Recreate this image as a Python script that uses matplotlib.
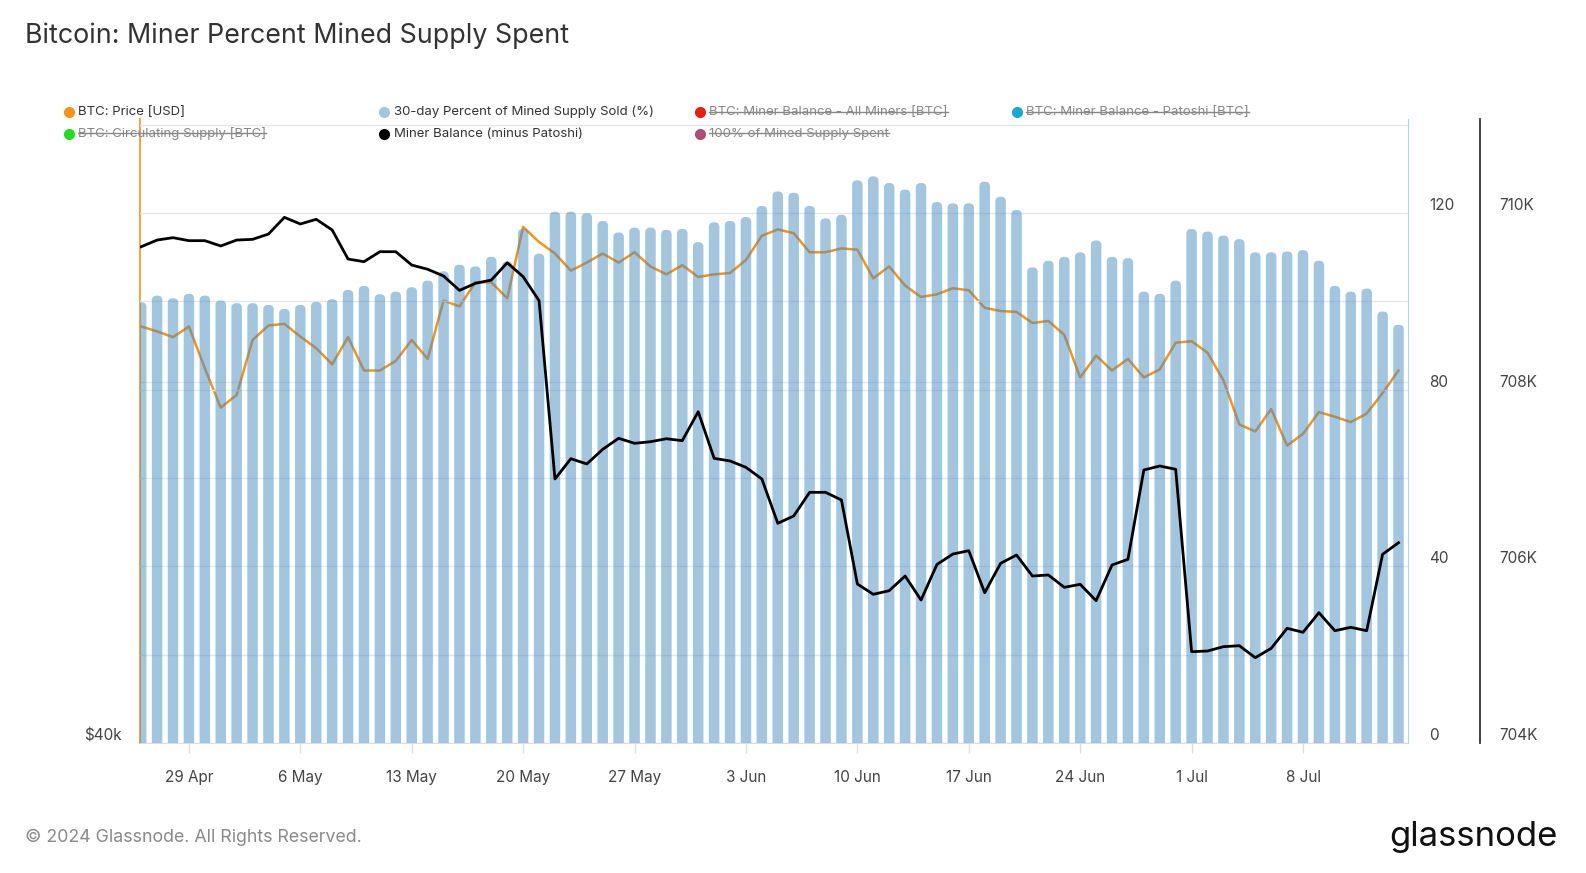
import numpy as np
import pandas as pd
import matplotlib
matplotlib.use('Agg')
import matplotlib.pyplot as plt
import matplotlib.dates as mdates
from matplotlib.ticker import FixedLocator, FuncFormatter, NullLocator
from matplotlib.lines import Line2D
from matplotlib.patches import FancyBboxPatch

plt.rcParams['font.family'] = ['Inter', 'DejaVu Sans']

dates = pd.date_range('2024-04-26', periods=80, freq='D')

# 30-day percent of mined supply sold (%)
pct_sold = [99.8, 101.3, 100.7, 101.7, 101.3, 100.2, 99.6, 99.6, 99.2, 98.3,
            99.2, 99.9, 100.5, 102.6, 103.5, 101.6, 102.2, 103.2, 104.7, 106.8,
            108.3, 107.9, 110.1, 109.0, 116.4, 110.8, 120.3, 120.3, 120.0, 118.2,
            115.6, 116.7, 116.7, 116.2, 116.4, 113.4, 117.9, 118.2, 119.1, 121.6,
            124.9, 124.6, 121.6, 118.8, 119.6, 127.4, 128.3, 126.8, 125.3, 126.8,
            122.5, 122.2, 122.2, 127.1, 123.7, 120.7, 107.7, 109.2, 110.1, 111.1,
            113.8, 110.1, 109.8, 102.2, 101.7, 104.7, 116.4, 115.8, 114.9, 114.1,
            111.1, 111.1, 111.3, 111.6, 109.2, 103.5, 102.2, 102.9, 97.7, 94.7]

# BTC price (USD)
price = [63850, 63500, 63090, 63850, 60930, 58290, 59130, 62890, 63920, 64040,
         63130, 62310, 61200, 63090, 60770, 60770, 61430, 62890, 61570, 65740,
         65300, 67100, 67100, 65900, 71400, 70200, 69300, 67980, 68600, 69300,
         68600, 69400, 68300, 67700, 68400, 67500, 67700, 67800, 68800, 70700,
         71200, 70900, 69400, 69400, 69700, 69600, 67400, 68300, 66850, 66000,
         66200, 66650, 66500, 65200, 64970, 64900, 64100, 64250, 63250, 60300,
         61800, 60770, 61570, 60300, 60850, 62700, 62800, 62000, 60100, 57200,
         56750, 58200, 55860, 56600, 58000, 57700, 57350, 57900, 59250, 60770]

# Miner balance (minus Patoshi), BTC
miner_balance = [709620, 709696, 709723, 709689, 709689, 709629, 709696, 709704, 709764, 709953,
                 709878, 709931, 709810, 709481, 709451, 709564, 709564, 709413, 709365, 709289,
                 709126, 709206, 709243, 709439, 709281, 709009, 706990, 707220, 707160, 707326,
                 707451, 707394, 707412, 707446, 707424, 707752, 707224, 707194, 707122, 706990,
                 706488, 706571, 706839, 706839, 706752, 705801, 705684, 705725, 705891, 705619,
                 706022, 706140, 706178, 705702, 706035, 706129, 705891, 705903, 705763, 705797,
                 705612, 706016, 706080, 707092, 707137, 707100, 705034, 705042, 705091, 705102,
                 704966, 705072, 705299, 705254, 705476, 705272, 705310, 705272, 706137, 706268]

legend_items = [
    ("BTC: Price [USD]", "#f7931a", False),
    ("30-day Percent of Mined Supply Sold (%)", "#a3c6e0", False),
    ("BTC: Miner Balance - All Miners [BTC]", "#e8200e", True),
    ("BTC: Miner Balance - Patoshi [BTC]", "#17a9d1", True),
    ("BTC: Circulating Supply [BTC]", "#1fe01f", True),
    ("Miner Balance (minus Patoshi)", "#000000", False),
    ("100% of Mined Supply Spent", "#b24a78", True),
]

fig = plt.figure(figsize=(15.86, 8.73), dpi=100)
ax_p = fig.add_axes([0.088, 0.1489, 0.7998, 0.7148])
ax_b = ax_p.twinx()
ax_m = ax_p.twinx()
ax_p.set_zorder(1)
ax_b.set_zorder(2)
ax_m.set_zorder(3)

grid_c = '#e6e6e6'
tick_c = '#444444'

# price (log, sits under the bars)
ax_p.plot(dates, price, color='#f7931a', lw=1.8)
ax_p.set_yscale('log')
ax_p.set_ylim(40000, 80600)
ax_p.yaxis.set_major_locator(FixedLocator([40000]))
ax_p.yaxis.set_minor_locator(NullLocator())
ax_p.yaxis.set_major_formatter(FuncFormatter(lambda v, p: '$40k'))
ax_p.axhline(60000, color=grid_c, lw=1, zorder=0)
ax_p.tick_params(axis='y', length=0, pad=13, labelsize=11, labelcolor=tick_c)
for s in ['top', 'right']:
    ax_p.spines[s].set_visible(False)
ax_p.spines['left'].set_color('#f7931a')
ax_p.spines['left'].set_linewidth(1.2)
ax_p.spines['bottom'].set_color('#dddddd')

ax_p.set_xlim(dates[0] - pd.Timedelta(hours=2.4), dates[-1] + pd.Timedelta(hours=14.4))
ax_p.xaxis.set_major_locator(mdates.WeekdayLocator(byweekday=mdates.MO))
ax_p.xaxis.set_major_formatter(mdates.DateFormatter('%-d %b'))
ax_p.tick_params(axis='x', length=7, width=1, color='#dddddd', pad=12.5,
                 labelsize=11, labelcolor=tick_c)

# percent bars, with rounded tops
bars = ax_b.bar(dates, pct_sold, width=0.66, color='#468cc3', alpha=0.5, linewidth=0)
for rect in bars:
    x0, w, h = rect.get_x(), rect.get_width(), rect.get_height()
    rect.remove()
    ax_b.add_patch(FancyBboxPatch((x0, -4), w, h + 4,
                                  boxstyle='round,pad=0,rounding_size=0.3',
                                  mutation_aspect=3.6, fc='#468cc3', alpha=0.5, lw=0))
ax_b.set_ylim(0, 141.3)
ax_b.yaxis.set_major_locator(FixedLocator(np.arange(0, 141, 20)))
ax_b.yaxis.set_major_formatter(FuncFormatter(lambda v, p: f'{v:.0f}' if v % 40 == 0 else ''))
ax_b.yaxis.grid(True, color=grid_c, lw=1)
ax_b.set_axisbelow(True)
ax_b.tick_params(axis='y', length=0, pad=15, labelsize=11, labelcolor=tick_c)
for s in ['top', 'left', 'bottom']:
    ax_b.spines[s].set_visible(False)
ax_b.spines['right'].set_color('#b5d2e8')
for lbl in ax_b.get_yticklabels():
    lbl.set_verticalalignment('bottom')

# miner balance
ax_m.plot(dates, miner_balance, color='black', lw=2)
ax_m.set_ylim(704000, 711067)
ax_m.yaxis.set_major_locator(FixedLocator([704000, 706000, 708000, 710000]))
ax_m.yaxis.set_major_formatter(FuncFormatter(lambda v, p: f'{v/1000:.0f}K'))
ax_m.tick_params(axis='y', length=0, pad=14, labelsize=11, labelcolor=tick_c)
for s in ['top', 'left', 'bottom']:
    ax_m.spines[s].set_visible(False)
ax_m.spines['right'].set_position(('axes', 1.0568))
ax_m.spines['right'].set_color('#333333')
ax_m.spines['right'].set_linewidth(1.3)
for lbl in ax_m.get_yticklabels():
    lbl.set_verticalalignment('bottom')
for lbl in ax_p.get_yticklabels():
    lbl.set_verticalalignment('bottom')

# title and footer
fig.text(0.016, 0.9595, "Bitcoin: Miner Percent Mined Supply Spent", fontsize=19.3,
         color='#333333', va='center', ha='left')
fig.text(0.016, 0.0407, "\u00a9 2024 Glassnode. All Rights Reserved.", fontsize=12.8,
         color='#8a8a8a', va='center', ha='left')
fig.text(0.982, 0.0407, "glassnode", fontsize=25, color='#111111', va='center', ha='right')

# legend (manual, two rows of four columns)
col_x = [0.0434, 0.2424, 0.4414, 0.641]
row_y = [0.8715, 0.847]
texts = []
for i, (name, col, struck) in enumerate(legend_items):
    r, c = divmod(i, 4)
    fig.add_artist(Line2D([col_x[c]], [row_y[r]], marker='o', markersize=7, color=col,
                          transform=fig.transFigure))
    t = fig.text(col_x[c] + 0.0058, row_y[r], name, fontsize=9.5, va='center', ha='left',
                 color='#888888' if struck else '#333333')
    texts.append((t, struck))

fig.canvas.draw()
renderer = fig.canvas.get_renderer()
for t, struck in texts:
    if not struck:
        continue
    bb = t.get_window_extent(renderer).transformed(fig.transFigure.inverted())
    ym = bb.y0 + (bb.y1 - bb.y0) * 0.52
    fig.add_artist(Line2D([bb.x0, bb.x1], [ym, ym], color='#888888', lw=1,
                          transform=fig.transFigure))

fig.savefig('out.png', dpi=100)
